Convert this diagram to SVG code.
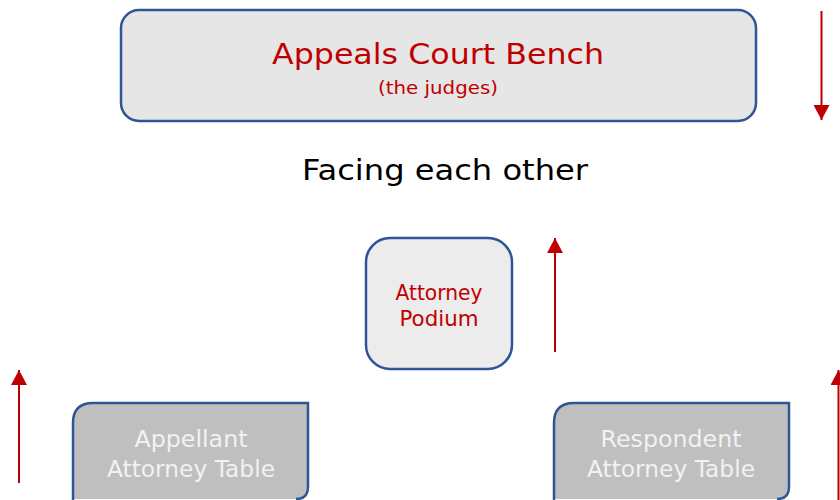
<svg xmlns="http://www.w3.org/2000/svg" width="840" height="500" viewBox="0 0 840 500">
<defs>
<marker id="ah" markerWidth="15" markerHeight="16" refX="15" refY="8" orient="auto" markerUnits="userSpaceOnUse">
<path d="M0,0 L15,8 L0,16 Z" fill="#c00000"/>
</marker>
<style>
.node{stroke:#2f5597;stroke-width:2.5}
.t{font-family:"DejaVu Sans","Liberation Sans",sans-serif;text-anchor:middle}
.red{fill:#c00000}
.wt{fill:#f2f2f2}
.tbl{fill:#bfbfbf}
.edge{fill:none;stroke:#2f5597;stroke-width:2.5}
.arr{stroke:#c00000;stroke-width:2;fill:none;marker-end:url(#ah)}
</style>
</defs>
<rect width="840" height="500" fill="#ffffff"/>
<g id="bench">
<rect class="node" x="121" y="10" width="635" height="111" rx="18" fill="#e6e6e6"/>
<text class="t red" x="438" y="64" font-size="29" textLength="332" lengthAdjust="spacingAndGlyphs">Appeals Court Bench</text>
<text class="t red" x="438" y="94" font-size="18" textLength="120" lengthAdjust="spacingAndGlyphs">(the judges)</text>
</g>
<g id="caption">
<text class="t" x="445" y="180" font-size="29" fill="#000" textLength="286" lengthAdjust="spacingAndGlyphs">Facing each other</text>
</g>
<g id="podium">
<rect class="node" x="366" y="238" width="146" height="131" rx="24" fill="#ececec"/>
<text class="t red" x="439" y="300" font-size="20.5" textLength="87" lengthAdjust="spacingAndGlyphs">Attorney</text>
<text class="t red" x="439" y="326" font-size="20.5" textLength="79" lengthAdjust="spacingAndGlyphs">Podium</text>
</g>
<g id="appellant">
<path class="tbl" d="M73,423 Q73,403 93,403 L308,403 L308,487 Q308,499 296,499 L73,499 L73,500 Z"/>
<path class="edge" d="M73,501 L73,423 Q73,403 93,403 L308,403 L308,487 Q308,499 296,499"/>
<text class="t wt" x="191" y="447" font-size="23" textLength="113" lengthAdjust="spacingAndGlyphs">Appellant</text>
<text class="t wt" x="191" y="477" font-size="23" textLength="168" lengthAdjust="spacingAndGlyphs">Attorney Table</text>
</g>
<g id="respondent">
<path class="tbl" d="M554,423 Q554,403 574,403 L789,403 L789,487 Q789,499 777,499 L554,499 L554,500 Z"/>
<path class="edge" d="M554,501 L554,423 Q554,403 574,403 L789,403 L789,487 Q789,499 777,499"/>
<text class="t wt" x="671" y="447" font-size="23" textLength="141" lengthAdjust="spacingAndGlyphs">Respondent</text>
<text class="t wt" x="671" y="477" font-size="23" textLength="168" lengthAdjust="spacingAndGlyphs">Attorney Table</text>
</g>
<g id="connectors">
<line class="arr" x1="821.5" y1="11" x2="821.5" y2="120"/>
<line class="arr" x1="555" y1="352" x2="555" y2="238"/>
<line class="arr" x1="19" y1="483" x2="19" y2="370"/>
<line class="arr" x1="838.5" y1="500" x2="838.5" y2="370"/>
</g>
</svg>
